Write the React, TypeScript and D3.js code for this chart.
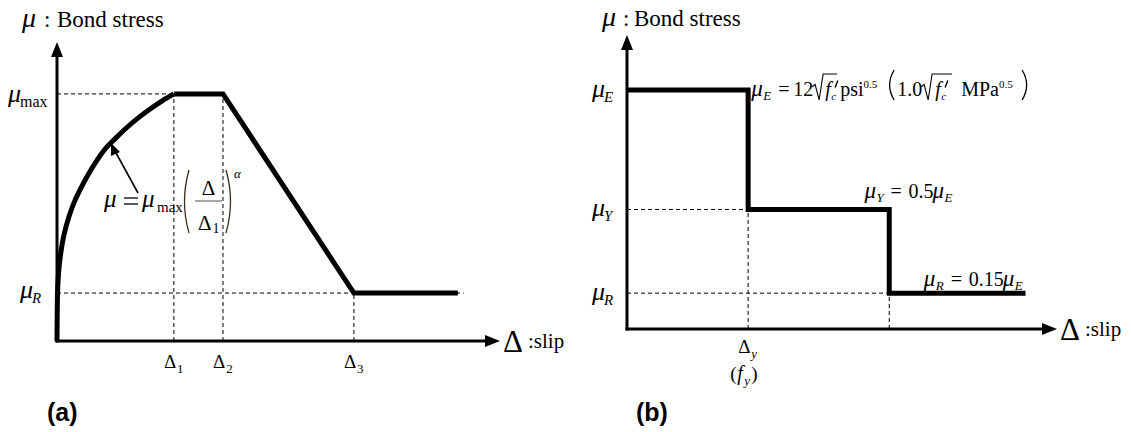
import React from "react";
import * as d3 from "d3";

// ---- Panel (a): power-law rise, plateau, linear softening, residual ----
// slip in units of Δ1, stress in units of μmax
const riseSlip = [0, 0.005, 0.01, 0.02, 0.04, 0.06, 0.1, 0.15, 0.2, 0.3, 0.4, 0.5, 0.6, 0.7, 0.8, 0.9, 1.0];
const riseStress = [0, 0.2, 0.25, 0.31, 0.38, 0.43, 0.5, 0.565, 0.615, 0.7, 0.77, 0.82, 0.865, 0.905, 0.94, 0.972, 1.0];
const tailSlip = [1.0, 1.42, 2.54, 3.43];
const tailStress = [1.0, 1.0, 0.194, 0.194];
const keySlipsA = [1.0, 1.42, 2.54];
const keySubsA = ["1", "2", "3"];
const levelValuesA = [1.0, 0.194];
const levelSubsA = ["max", "R"];

// ---- Panel (b): stepped bond law (slip in units of Δy, stress in units of μE) ----
const stepSlip = [0, 1, 1, 2.165, 2.165, 3.29];
const stepStress = [1, 1, 0.5, 0.5, 0.15, 0.15];
const levelValuesB = [1, 0.5, 0.15];
const levelSubsB = ["E", "Y", "R"];
const yieldSlip = 1;
const residualSlip = 2.165;

const SERIF = '"Liberation Serif", "Times New Roman", "DejaVu Serif", serif';
const SANS = '"Liberation Sans", Arial, sans-serif';
const INK = "#000";

const W = 1131;
const H = 432;

function headUp(x: number, y: number, len = 15, half = 6) {
  return `M${x},${y} L${x - half},${y + len} L${x + half},${y + len} Z`;
}
function headRight(x: number, y: number, len = 15, half = 6) {
  return `M${x},${y} L${x - len},${y - half} L${x - len},${y + half} Z`;
}

function T(props: any) {
  return <text fontFamily={SERIF} fill={INK} {...props} />;
}

function MuLabel({ x, y, sub }: { x: number; y: number; sub: string }) {
  const italicSub = sub.length === 1;
  return (
    <T x={x} y={y} fontSize={26}>
      <tspan fontStyle="italic">μ</tspan>
      <tspan dy={5} dx={-1} fontSize={italicSub ? 15 : 16} fontStyle={italicSub ? "italic" : "normal"}>
        {sub}
      </tspan>
    </T>
  );
}

function Radical({ x, y, w, h }: { x: number; y: number; w: number; h: number }) {
  // x,y: left end at the baseline; w: overline width; h: height above baseline
  return (
    <path
      d={`M${x},${y - h * 0.42} L${x + 3},${y - h * 0.52} L${x + 7},${y + 4} L${x + 11},${y - h} L${x + 11 + w},${y - h}`}
      fill="none"
      stroke={INK}
      strokeWidth={1.1}
    />
  );
}

function Paren({ x, top, bottom, right, color = "#3b2b1c" }: { x: number; top: number; bottom: number; right?: boolean; color?: string }) {
  const bulge = right ? 6 : -6;
  const mid = (top + bottom) / 2;
  return (
    <path
      d={`M${x},${top} Q${x + bulge * 1.5},${mid} ${x},${bottom}`}
      fill="none"
      stroke={color}
      strokeWidth={1.3}
    />
  );
}

// f′ with subscript c, followed by a unit with a 0.5 exponent
function RootTerm({ x, y, unit, unitGap }: { x: number; y: number; unit: string; unitGap: number }) {
  const ux = x + unitGap;
  return (
    <g>
      <T fontSize={20}>
        <tspan x={x} y={y} fontStyle="italic">f</tspan>
        <tspan x={x + 6} y={y + 4} fontSize={11} fontStyle="italic">c</tspan>
      </T>
      {/* prime mark */}
      <path d={`M${x + 12.5},${y - 15} L${x + 10.2},${y - 9}`} stroke={INK} strokeWidth={1.4} strokeLinecap="round" />
      <T fontSize={20}>
        <tspan x={ux} y={y}>{unit}</tspan>
        <tspan dy={-8} fontSize={11}>0.5</tspan>
      </T>
    </g>
  );
}

function PanelA() {
  const x = d3.scaleLinear().domain([0, 3.79]).range([57, 500]);
  const y = d3.scaleLinear().domain([0, 1.21]).range([341, 42]);
  const pts: [number, number][] = riseSlip.map((s, i) => [s, riseStress[i]]);
  const tail: [number, number][] = tailSlip.map((s, i) => [s, tailStress[i]]);
  const rise = d3
    .line<[number, number]>()
    .x((d) => x(d[0]))
    .y((d) => y(d[1]))
    .curve(d3.curveCatmullRom.alpha(0.5));
  const lin = d3
    .line<[number, number]>()
    .x((d) => x(d[0]))
    .y((d) => y(d[1]));

  const x0 = x(0);
  const y0 = y(0);
  const dash = "4,3";
  return (
    <g>
      {/* guide lines */}
      <line x1={x0} x2={x(keySlipsA[0])} y1={y(levelValuesA[0])} y2={y(levelValuesA[0])} stroke={INK} strokeWidth={1} strokeDasharray={dash} />
      <line x1={x0} x2={x(3.48)} y1={y(levelValuesA[1])} y2={y(levelValuesA[1])} stroke={INK} strokeWidth={1} strokeDasharray={dash} />
      {keySlipsA.map((s, i) => (
        <line
          key={i}
          x1={x(s)}
          x2={x(s)}
          y1={y0}
          y2={y(i < 2 ? levelValuesA[0] : levelValuesA[1])}
          stroke={INK}
          strokeWidth={1}
          strokeDasharray={dash}
        />
      ))}

      {/* bond-slip curve */}
      <path d={rise(pts) ?? ""} fill="none" stroke={INK} strokeWidth={5} strokeLinejoin="round" />
      <path d={lin(tail) ?? ""} fill="none" stroke={INK} strokeWidth={5} strokeLinejoin="miter" />

      {/* axes */}
      <line x1={x0} x2={x0} y1={y0 + 1.5} y2={y(1.21) + 12} stroke={INK} strokeWidth={3} />
      <path d={headUp(x0, y(1.21))} fill={INK} />
      <line x1={x0 - 1.5} x2={x(3.79) - 12} y1={y0} y2={y0} stroke={INK} strokeWidth={3} />
      <path d={headRight(x(3.79), y0)} fill={INK} />

      {/* axis titles */}
      <T x={22} y={27} fontSize={28} fontStyle="italic">μ</T>
      <T x={44} y={27} fontSize={23}>:</T>
      <T x={57} y={27} fontSize={23}>Bond stress</T>
      <T x={x(3.79) + 3} y={y0 + 11} fontSize={31}>Δ</T>
      <T x={x(3.79) + 28} y={y0 + 7} fontSize={21}>:slip</T>

      {/* level labels */}
      <MuLabel x={8} y={y(levelValuesA[0]) + 8} sub={levelSubsA[0]} />
      <MuLabel x={20} y={y(levelValuesA[1]) + 5} sub={levelSubsA[1]} />

      {/* slip labels */}
      {keySlipsA.map((s, i) => (
        <T key={i} x={x(s) - 10} y={y0 + 27} fontSize={19}>
          Δ<tspan fontSize={13} dx={1} dy={5}>{keySubsA[i]}</tspan>
        </T>
      ))}

      {/* curve annotation */}
      <line x1={138} y1={193} x2={115} y2={151} stroke={INK} strokeWidth={1.6} />
      <path d="M111,143 L120,152 L111,156 Z" fill={INK} />
      <T x={104} y={207} fontSize={25} fontStyle="italic">μ</T>
      <line x1={124} x2={138} y1={198} y2={198} stroke={INK} strokeWidth={1.3} />
      <line x1={124} x2={138} y1={204} y2={204} stroke={INK} strokeWidth={1.3} />
      <T x={142} y={207} fontSize={25} fontStyle="italic">μ</T>
      <T x={157} y={212} fontSize={15}>max</T>
      <Paren x={189} top={170} bottom={233} />
      <T x={208.5} y={195} textAnchor="middle" fontSize={21}>Δ</T>
      <line x1={195} x2={222} y1={201} y2={201} stroke="#777" strokeWidth={1.3} />
      <T x={198} y={230} fontSize={21}>
        Δ<tspan fontSize={14} dx={1} dy={3}>1</tspan>
      </T>
      <Paren x={226} top={170} bottom={233} right />
      <T x={234} y={178} fontSize={13} fontStyle="italic">α</T>

      <text x={47} y={421} fontFamily={SANS} fontWeight="bold" fontSize={25} fill={INK}>(a)</text>
    </g>
  );
}

function PanelB() {
  const x = d3.scaleLinear().domain([0, 3.55]).range([627, 1057]);
  const y = d3.scaleLinear().domain([0, 1.23]).range([329, 35]);
  const steps: [number, number][] = stepSlip.map((s, i) => [s, stepStress[i]]);
  const lin = d3
    .line<[number, number]>()
    .x((d) => x(d[0]))
    .y((d) => y(d[1]));
  const x0 = x(0);
  const y0 = y(0);
  const dash = "4,3";
  const fy = y(levelValuesB[0]) + 6;
  const fx = x(yieldSlip) + 3;
  const yx = x(1.96);
  const yy = y(levelValuesB[1]) - 11;
  const rx = x(2.45);
  const ry = y(levelValuesB[2]) - 7;
  return (
    <g>
      {/* guide lines */}
      <line x1={x0} x2={x(yieldSlip)} y1={y(levelValuesB[1])} y2={y(levelValuesB[1])} stroke={INK} strokeWidth={1} strokeDasharray={dash} />
      <line x1={x0} x2={x(residualSlip)} y1={y(levelValuesB[2])} y2={y(levelValuesB[2])} stroke={INK} strokeWidth={1} strokeDasharray={dash} />
      <line x1={x(yieldSlip)} x2={x(yieldSlip)} y1={y0} y2={y(levelValuesB[1])} stroke={INK} strokeWidth={1} strokeDasharray={dash} />
      <line x1={x(residualSlip)} x2={x(residualSlip)} y1={y0} y2={y(levelValuesB[2])} stroke={INK} strokeWidth={1} strokeDasharray={dash} />

      {/* stepped law */}
      <path d={lin(steps) ?? ""} fill="none" stroke={INK} strokeWidth={5} strokeLinejoin="miter" />

      {/* axes */}
      <line x1={x0} x2={x0} y1={y0 + 1.5} y2={y(1.23) + 12} stroke={INK} strokeWidth={3} />
      <path d={headUp(x0, y(1.23))} fill={INK} />
      <line x1={x0 - 1.5} x2={x(3.55) - 12} y1={y0} y2={y0} stroke={INK} strokeWidth={3} />
      <path d={headRight(x(3.55), y0)} fill={INK} />

      <T x={602} y={26} fontSize={28} fontStyle="italic">μ</T>
      <T x={623} y={26} fontSize={23}>:</T>
      <T x={634} y={26} fontSize={23}>Bond stress</T>
      <T x={x(3.55) + 3} y={y0 + 11} fontSize={31}>Δ</T>
      <T x={x(3.55) + 28} y={y0 + 7} fontSize={21}>:slip</T>

      {levelValuesB.map((v, i) => (
        <MuLabel key={i} x={592} y={y(v) + 7} sub={levelSubsB[i]} />
      ))}

      <T x={x(yieldSlip) - 10} y={y0 + 24} fontSize={19}>
        Δ<tspan fontSize={13} fontStyle="italic" dx={1} dy={5}>y</tspan>
      </T>
      <T fontSize={19}>
        <tspan x={x(yieldSlip) - 18} y={y0 + 51}>(</tspan>
        <tspan x={x(yieldSlip) - 11} y={y0 + 51} fontSize={20} fontStyle="italic">f</tspan>
        <tspan x={x(yieldSlip) - 4} y={y0 + 56} fontSize={13} fontStyle="italic">y</tspan>
        <tspan x={x(yieldSlip) + 3} y={y0 + 51}>)</tspan>
      </T>

      {/* μE formula */}
      <T fontSize={20}>
        <tspan x={fx} y={fy} fontSize={23} fontStyle="italic">μ</tspan>
        <tspan x={fx + 12} y={fy + 4} fontSize={13} fontStyle="italic">E</tspan>
        <tspan x={fx + 27} y={fy}>=</tspan>
        <tspan x={fx + 42} y={fy}>12</tspan>
      </T>
      <Radical x={fx + 61} y={fy} w={14} h={22} />
      <RootTerm x={fx + 74} y={fy} unit="psi" unitGap={15} />
      <Paren x={fx + 143} top={fy - 26} bottom={fy + 4} color={INK} />
      <T x={fx + 146} y={fy} fontSize={20}>1.0</T>
      <Radical x={fx + 170} y={fy} w={20} h={22} />
      <RootTerm x={fx + 184} y={fy} unit="MPa" unitGap={26} />
      <Paren x={fx + 271} top={fy - 26} bottom={fy + 4} right color={INK} />

      {/* μY, μR formulas */}
      <T fontSize={20}>
        <tspan x={yx} y={yy} fontSize={23} fontStyle="italic">μ</tspan>
        <tspan x={yx + 12} y={yy + 4} fontSize={13} fontStyle="italic">Y</tspan>
        <tspan x={yx + 26} y={yy}>=</tspan>
        <tspan x={yx + 44} y={yy}>0.5</tspan>
        <tspan x={yx + 68} y={yy} fontSize={23} fontStyle="italic">μ</tspan>
        <tspan x={yx + 80} y={yy + 4} fontSize={13} fontStyle="italic">E</tspan>
      </T>
      <T fontSize={20}>
        <tspan x={rx} y={ry} fontSize={23} fontStyle="italic">μ</tspan>
        <tspan x={rx + 12} y={ry + 4} fontSize={13} fontStyle="italic">R</tspan>
        <tspan x={rx + 27} y={ry}>=</tspan>
        <tspan x={rx + 45} y={ry}>0.15</tspan>
        <tspan x={rx + 79} y={ry} fontSize={23} fontStyle="italic">μ</tspan>
        <tspan x={rx + 91} y={ry + 4} fontSize={13} fontStyle="italic">E</tspan>
      </T>

      <text x={636} y={421} fontFamily={SANS} fontWeight="bold" fontSize={25} fill={INK}>(b)</text>
    </g>
  );
}

export default function App() {
  return (
    <svg
      width={W}
      height={H}
      viewBox={`0 0 ${W} ${H}`}
      style={{ position: "absolute", left: 0, top: 0, background: "#fff" }}
    >
      <rect width={W} height={H} fill="#fff" />
      <PanelA />
      <PanelB />
    </svg>
  );
}
